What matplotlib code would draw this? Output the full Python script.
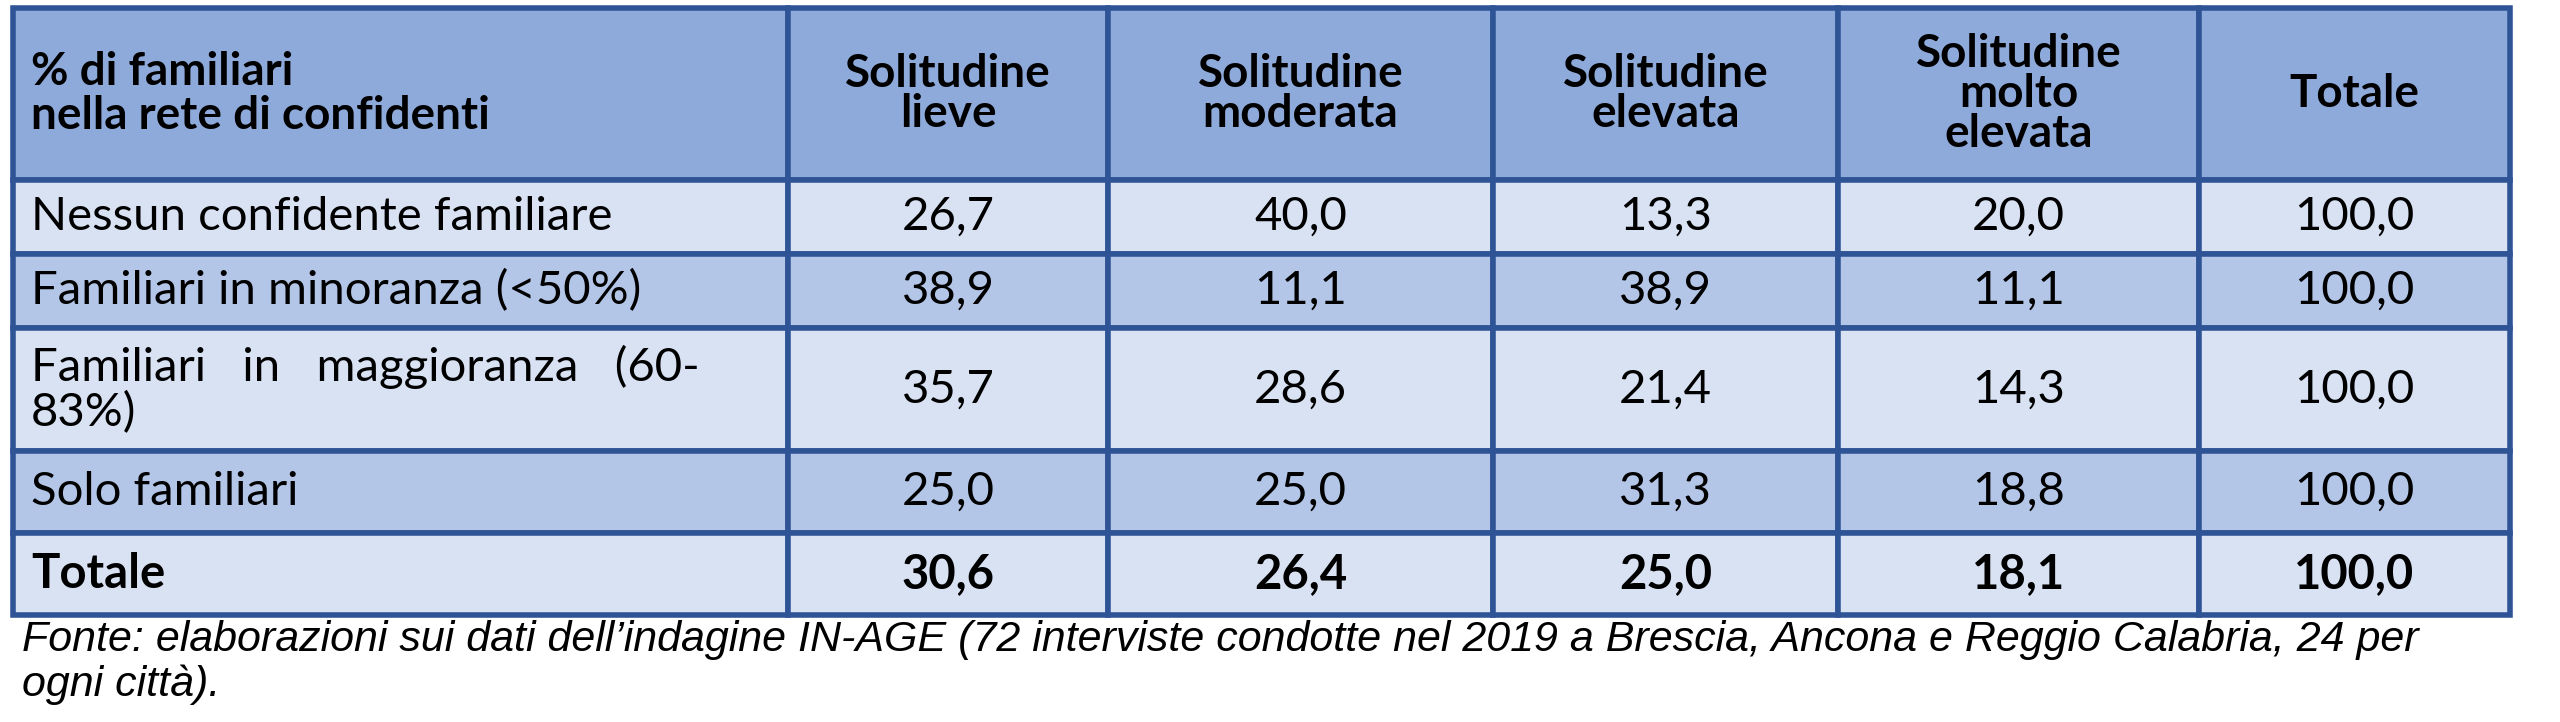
import matplotlib
matplotlib.use("Agg")
import matplotlib.pyplot as plt
from matplotlib.patches import Rectangle

header = ["% di familiari\nnella rete di confidenti", "Solitudine\nlieve", "Solitudine\nmoderata",
          "Solitudine\nelevata", "Solitudine\nmolto\nelevata", "Totale"]
row_labels = ["Nessun confidente familiare", "Familiari in minoranza (<50%)",
              "Familiari   in   maggioranza   (60-\n83%)", "Solo familiari", "Totale"]
lieve = [26.7, 38.9, 35.7, 25.0, 30.6]
moderata = [40.0, 11.1, 28.6, 25.0, 26.4]
elevata = [13.3, 38.9, 21.4, 31.3, 25.0]
molto_elevata = [20.0, 11.1, 14.3, 18.8, 18.1]
totale = [100.0, 100.0, 100.0, 100.0, 100.0]
note = ("Fonte: elaborazioni sui dati dell\u2019indagine IN-AGE (72 interviste condotte nel 2019 a Brescia, Ancona e Reggio Calabria, 24 per\n"
        "ogni citt\u00e0).")

cols = [13, 788, 1108, 1493, 1838, 2199, 2510]
rows = [8, 180, 254, 328, 451, 533, 615]
HEAD = "#8EAADB"
LIGHT = "#D9E2F3"
DARK = "#B4C6E7"
EDGE = "#2F5496"
FONT = "Lato"
FS = 34

fig = plt.figure(figsize=(25.6, 7.22), dpi=100)
ax = fig.add_axes([0, 0, 1, 1])
ax.set_xlim(0, 2560)
ax.set_ylim(722, 0)
ax.axis("off")

values = list(zip(lieve, moderata, elevata, molto_elevata, totale))
for r in range(6):
    y0, y1 = rows[r], rows[r + 1]
    fc = HEAD if r == 0 else (LIGHT if r % 2 == 1 else DARK)
    for c in range(6):
        x0, x1 = cols[c], cols[c + 1]
        ax.add_patch(Rectangle((x0, y0), x1 - x0, y1 - y0, facecolor=fc,
                               edgecolor=EDGE, linewidth=4))
        cy = (y0 + y1) / 2
        if r == 0:
            if c == 0:
                ax.text(x0 + 18, cy, header[c], ha="left", va="center", fontsize=FS - 1,
                        fontweight="bold", family=FONT, linespacing=1.05)
            else:
                ax.text((x0 + x1) / 2, cy, header[c], ha="center", va="center", fontsize=FS - 1,
                        fontweight="bold", family=FONT, linespacing=0.95)
        else:
            bold = "bold" if r == 5 else "normal"
            if c == 0:
                ax.text(x0 + 18, cy, row_labels[r - 1], ha="left", va="center", fontsize=FS,
                        fontweight=bold, family=FONT, linespacing=1.05)
            else:
                s = f"{values[r - 1][c - 1]:.1f}".replace(".", ",")
                ax.text((x0 + x1) / 2, cy, s, ha="center", va="center", fontsize=FS,
                        fontweight=bold, family=FONT)

ax.text(22, 620, note, ha="left", va="top", fontsize=31, style="italic",
        family="Liberation Sans", linespacing=1.15)

fig.savefig("out.png", dpi=100)
